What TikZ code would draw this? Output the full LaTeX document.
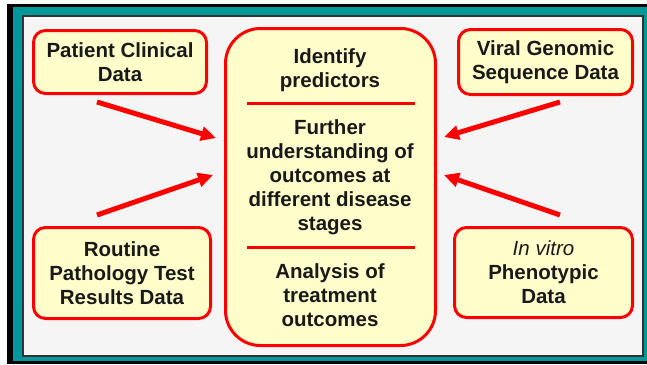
\documentclass[tikz,border=0pt]{standalone}
\usepackage{fontspec}
\setmainfont{Liberation Sans}
\usetikzlibrary{arrows.meta}
\definecolor{paleyellow}{HTML}{FFFFCC}
\definecolor{framebg}{HTML}{F5F5F5}
\definecolor{frameteal}{HTML}{009999}
\definecolor{frameline}{HTML}{333333}
\tikzset{
    boxtext/.style={align=center, text=black!90, font=\bfseries\fontsize{20.5}{24}\selectfont},
    databox/.style={boxtext, draw=red, line width=3pt, fill=paleyellow, rounded corners=12pt, inner sep=0pt},
    corebox/.style={draw=red, line width=3pt, fill=paleyellow, rounded corners=35pt, inner sep=0pt},
    sepline/.style={red, line width=3pt},
    feed/.style={red, line width=5pt, -{Triangle[length=15pt,width=14pt]}}
}
\begin{document}
\begin{tikzpicture}[x=1pt, y=-1pt]
        \useasboundingbox (0,0) rectangle (647,364);
        % Frame
        \fill[black] (7,4) rectangle (647,364);
        \fill[frameteal] (13,7) rectangle (647,361);
        \filldraw[fill=framebg, draw=frameline, line width=2pt] (23,16) rectangle (643,355.5);
        % Centre
        \node[corebox, minimum width=210pt, minimum height=317pt] (core) at (330.5,187) {};
        \node[boxtext] (identify) at (330,70) {Identify\\predictors};
        \node[boxtext] (further) at (330,177) {Further\\understanding of\\outcomes at\\different disease\\stages};
        \node[boxtext] (analysis) at (330,295) {Analysis of\\treatment\\outcomes};
        \draw[sepline] (247,103) -- (415,103);
        \draw[sepline] (247,247) -- (415,247);
        % Sources
        \node[databox, minimum width=173pt, minimum height=63pt] (patient) at (120,62) {Patient Clinical\\Data};
        \node[databox, minimum width=174pt, minimum height=65pt] (viral) at (545.5,62) {Viral Genomic\\Sequence Data};
        \node[databox, minimum width=177pt, minimum height=91pt] (routine) at (122,273) {Routine\\Pathology Test\\Results Data};
        \node[databox, minimum width=178pt, minimum height=90pt] (invitro) at (543.5,272.5) {{\mdseries\itshape In vitro}\\Phenotypic\\Data};
        % Arrows
        \coordinate (patientout) at (97,102);
        \coordinate (patientin) at (216,138);
        \coordinate (routineout) at (97,215);
        \coordinate (routinein) at (213,175);
        \coordinate (viralout) at (560,102);
        \coordinate (viralin) at (444,137);
        \coordinate (invitroout) at (560,215);
        \coordinate (invitroin) at (444,175);
        \foreach \src in {patient,routine,viral,invitro} {
            \draw[feed] (\src out) -- (\src in);
        }
\end{tikzpicture}
\end{document}
